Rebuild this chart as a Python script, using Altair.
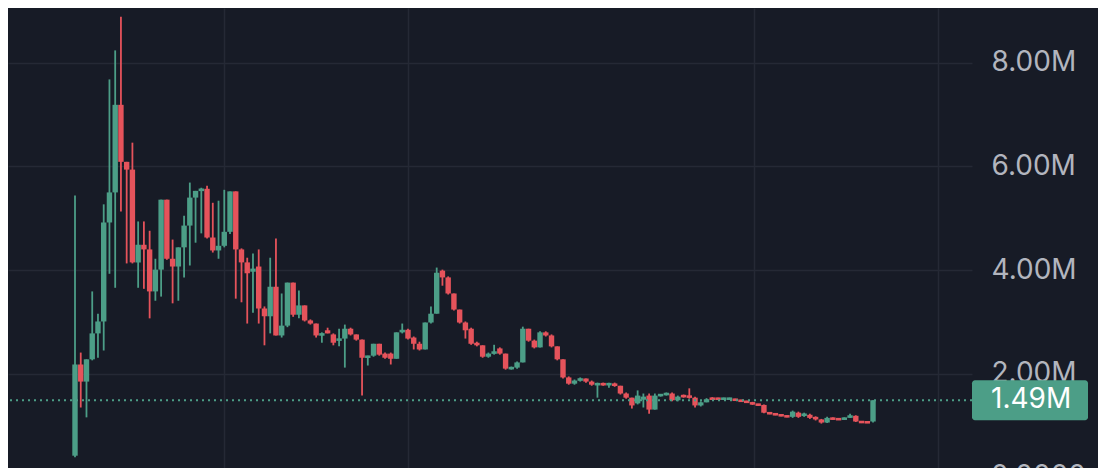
import altair as alt
import pandas as pd

# OHLC values in millions, one candle per period
opens = [0.42, 2.18, 1.85, 2.28, 2.78, 3.01, 4.92, 5.50, 7.19, 6.09,
         5.94, 4.15, 4.49, 4.40, 3.59, 4.01, 5.36, 4.22, 4.07, 4.44,
         4.86, 5.40, 5.53, 5.57, 4.63, 4.38, 4.47, 4.74, 5.52, 4.40,
         4.15, 3.97, 4.07, 3.26, 3.11, 3.68, 2.74, 2.93, 3.76, 3.14,
         3.32, 3.03, 2.97, 2.74, 2.84, 2.76, 2.64, 2.68, 2.87, 2.76,
         2.66, 2.31, 2.35, 2.58, 2.39, 2.39, 2.29, 2.80, 2.85, 2.70,
         2.58, 2.47, 2.99, 3.16, 3.99, 3.86, 3.55, 3.24, 2.99, 2.87,
         2.60, 2.55, 2.33, 2.39, 2.49, 2.39, 2.10, 2.12, 2.22, 2.87,
         2.64, 2.51, 2.80, 2.74, 2.53, 2.28, 1.93, 1.81, 1.87, 1.91,
         1.85, 1.79, 1.81, 1.79, 1.81, 1.77, 1.62, 1.54, 1.43, 1.50,
         1.58, 1.31, 1.58, 1.60, 1.62, 1.49, 1.58, 1.58, 1.54, 1.39,
         1.45, 1.53, 1.53, 1.51, 1.51, 1.51, 1.49, 1.47, 1.45, 1.41,
         1.40, 1.25, 1.23, 1.21, 1.19, 1.17, 1.25, 1.19, 1.21, 1.17,
         1.12, 1.06, 1.15, 1.13, 1.12, 1.16, 1.19, 1.08, 1.07, 1.08]
highs = [5.44, 2.41, 2.28, 3.59, 3.16, 5.27, 7.68, 8.24, 8.89, 6.09,
         6.46, 4.94, 4.94, 4.76, 4.22, 5.36, 5.36, 4.59, 4.44, 5.05,
         5.69, 5.53, 5.59, 5.63, 5.30, 5.34, 5.55, 5.52, 5.52, 4.42,
         4.24, 4.32, 4.40, 3.30, 4.24, 4.61, 3.55, 3.76, 3.76, 3.61,
         3.32, 3.05, 2.97, 2.80, 2.89, 2.78, 2.87, 2.95, 2.89, 2.76,
         2.66, 2.35, 2.58, 2.58, 2.41, 2.41, 2.80, 2.97, 2.87, 2.72,
         2.62, 2.99, 3.30, 4.05, 4.01, 3.88, 3.55, 3.24, 3.01, 2.89,
         2.62, 2.55, 2.41, 2.56, 2.51, 2.39, 2.14, 2.24, 2.91, 2.87,
         2.66, 2.82, 2.82, 2.76, 2.53, 2.28, 1.95, 1.89, 1.93, 1.91,
         1.87, 1.83, 1.83, 1.83, 1.83, 1.77, 1.64, 1.54, 1.68, 1.62,
         1.62, 1.62, 1.60, 1.64, 1.64, 1.58, 1.60, 1.72, 1.56, 1.47,
         1.53, 1.55, 1.54, 1.54, 1.54, 1.52, 1.50, 1.48, 1.46, 1.42,
         1.41, 1.26, 1.24, 1.22, 1.20, 1.29, 1.27, 1.25, 1.23, 1.18,
         1.13, 1.17, 1.16, 1.14, 1.16, 1.23, 1.20, 1.09, 1.08, 1.49]
lows = [0.39, 1.35, 1.16, 2.26, 2.31, 2.45, 3.93, 3.66, 5.13, 4.13,
        4.13, 3.66, 3.64, 3.07, 3.41, 3.49, 4.20, 3.36, 3.41, 3.86,
        4.09, 4.53, 4.71, 4.61, 4.34, 4.22, 4.44, 4.70, 3.45, 3.38,
        2.97, 3.18, 2.97, 2.55, 2.78, 2.74, 2.70, 2.90, 3.10, 3.07,
        3.01, 2.95, 2.70, 2.60, 2.78, 2.55, 2.53, 2.12, 2.74, 2.64,
        1.58, 2.16, 2.33, 2.35, 2.29, 2.18, 2.29, 2.78, 2.66, 2.47,
        2.45, 2.47, 2.97, 3.16, 3.70, 3.53, 3.22, 2.97, 2.68, 2.56,
        2.53, 2.31, 2.31, 2.37, 2.37, 2.08, 2.08, 2.10, 2.22, 2.62,
        2.49, 2.51, 2.72, 2.51, 2.26, 1.91, 1.79, 1.79, 1.85, 1.83,
        1.77, 1.54, 1.77, 1.73, 1.75, 1.60, 1.52, 1.33, 1.41, 1.35,
        1.23, 1.31, 1.56, 1.58, 1.47, 1.47, 1.54, 1.52, 1.35, 1.37,
        1.45, 1.51, 1.50, 1.50, 1.50, 1.48, 1.46, 1.44, 1.40, 1.38,
        1.24, 1.22, 1.20, 1.18, 1.16, 1.15, 1.15, 1.17, 1.13, 1.10,
        1.04, 1.05, 1.11, 1.11, 1.11, 1.15, 1.07, 1.05, 1.05, 1.06]
closes = [2.18, 1.85, 2.28, 2.78, 3.01, 4.92, 5.50, 7.19, 6.09, 5.94,
          4.15, 4.49, 4.40, 3.59, 4.01, 5.36, 4.22, 4.07, 4.44, 4.86,
          5.40, 5.53, 5.57, 4.63, 4.38, 4.47, 4.74, 5.52, 4.40, 4.15,
          3.94, 4.03, 3.26, 3.11, 3.68, 2.74, 2.93, 3.76, 3.14, 3.32,
          3.03, 2.97, 2.74, 2.78, 2.78, 2.60, 2.68, 2.87, 2.76, 2.66,
          2.31, 2.35, 2.58, 2.37, 2.31, 2.29, 2.80, 2.85, 2.68, 2.58,
          2.47, 2.99, 3.16, 3.95, 3.86, 3.55, 3.24, 2.99, 2.84, 2.58,
          2.55, 2.33, 2.39, 2.43, 2.39, 2.10, 2.12, 2.22, 2.87, 2.64,
          2.51, 2.80, 2.74, 2.53, 2.28, 1.93, 1.81, 1.87, 1.91, 1.85,
          1.79, 1.81, 1.79, 1.81, 1.77, 1.62, 1.54, 1.39, 1.58, 1.56,
          1.31, 1.58, 1.60, 1.62, 1.49, 1.56, 1.56, 1.54, 1.39, 1.45,
          1.51, 1.51, 1.51, 1.53, 1.53, 1.49, 1.47, 1.45, 1.41, 1.40,
          1.25, 1.23, 1.21, 1.19, 1.17, 1.27, 1.17, 1.23, 1.15, 1.12,
          1.06, 1.15, 1.12, 1.12, 1.15, 1.19, 1.08, 1.06, 1.06, 1.49]

y_ticks = [2, 4, 6, 8]                      # millions
time_grid = [25.95, 58.0, 118.27, 150.32]    # vertical grid lines (candle index units)
last_price = closes[-1]
last_label = f"{last_price:.2f}M"

UP = "#4C9E87"
DOWN = "#E5535B"
BG = "#171B26"
GRID = "#252935"
TXT = "#B2B5BE"
FONT = "Inter"

n = len(opens)
rows = []
for i in range(n):
    o, h, l, c = opens[i], highs[i], lows[i], closes[i]
    top, bot = max(o, c), min(o, c)
    if top - bot < 0.05:
        mid = (top + bot) / 2
        top, bot = mid + 0.025, mid - 0.025
    rows.append({"i": i, "open": o, "high": h, "low": l, "close": c,
                 "top": top, "bot": bot, "dir": "up" if c >= o else "down"})
df = pd.DataFrame(rows)

xscale = alt.Scale(domain=[-11.67, 156.24], nice=False, zero=False, padding=0)
yscale = alt.Scale(domain=[0.183, 9.058], nice=False, zero=False, padding=0)
cscale = alt.Scale(domain=["up", "down"], range=[UP, DOWN])

x_enc = alt.X("i:Q", scale=xscale, title=None,
              axis=alt.Axis(values=time_grid, labels=False, ticks=False, domain=False,
                            grid=True, gridColor=GRID, gridWidth=1.5))
y_axis = alt.Axis(orient="right", values=y_ticks, labelExpr="format(datum.value, '.2f') + 'M'",
                  labelFontSize=28, labelFont=FONT, labelColor=TXT, labelPadding=19,
                  ticks=False, domain=False, grid=True, gridColor=GRID, gridWidth=1.5,
                  title=None)

base = alt.Chart(df)

wicks = base.mark_rule(strokeWidth=1.8).encode(
    x=x_enc,
    y=alt.Y("low:Q", scale=yscale, axis=y_axis),
    y2="high:Q",
    color=alt.Color("dir:N", scale=cscale, legend=None),
)

bodies = base.mark_bar(width=5.4).encode(
    x="i:Q",
    y="bot:Q",
    y2="top:Q",
    color=alt.Color("dir:N", scale=cscale, legend=None),
)

price_line = alt.Chart(pd.DataFrame({"p": [last_price]})).mark_rule(
    strokeDash=[2, 4], strokeWidth=2, color=UP
).encode(y=alt.Y("p:Q"))

box = alt.Chart(pd.DataFrame({"p": [last_price]})).mark_rect(
    color=UP, cornerRadius=3
).encode(
    x=alt.value(964), x2=alt.value(1080),
    y=alt.datum(last_price + 0.386), y2=alt.datum(last_price - 0.386),
)

box_text = alt.Chart(pd.DataFrame({"p": [last_price]})).mark_text(
    align="left", baseline="middle", fontSize=28, font=FONT, color="#FFFFFF"
).encode(x=alt.value(983), y=alt.Y("p:Q"), text=alt.value(last_label))

zero_text = alt.Chart(pd.DataFrame({"p": [0.0]})).mark_text(
    align="left", baseline="middle", fontSize=28, font=FONT, color=TXT
).encode(x=alt.value(983), y=alt.Y("p:Q"), text=alt.value("0.0000"))

chart = alt.layer(wicks, bodies, price_line, box, box_text, zero_text).properties(
    width=964, height=460,
    autosize=alt.AutoSizeParams(type="none"),
    padding={"left": 0, "top": 0, "right": 126, "bottom": 0},
    background=BG,
).configure_view(stroke=None)

chart.save("out.html", embed_options={"renderer": "svg", "actions": False})
